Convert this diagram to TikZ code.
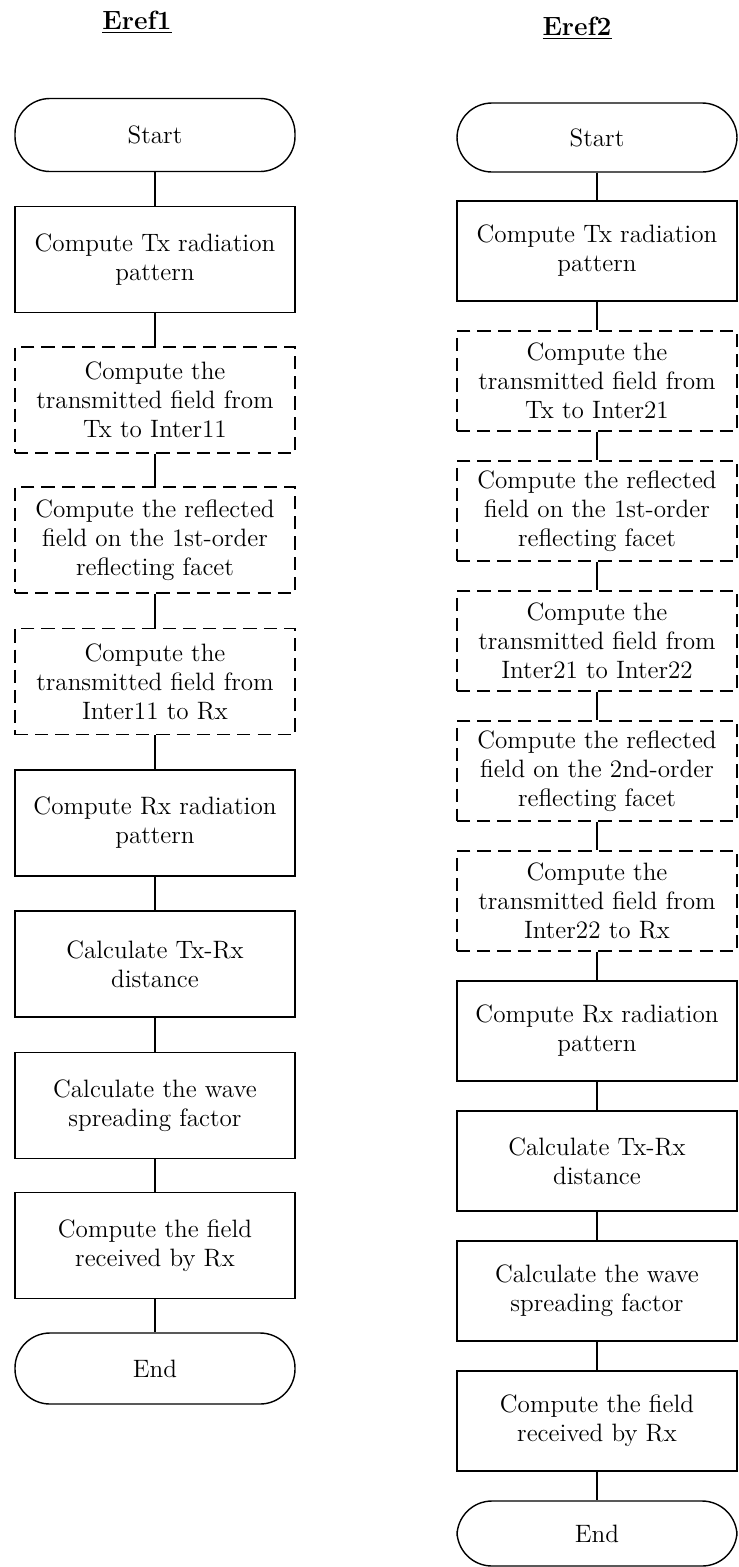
\documentclass[tikz,border=0pt]{standalone}
\usepackage{tikz}

\begin{document}
\begin{tikzpicture}[
  x=1cm,y=1cm,
  box/.style={draw, line width=0.8pt, align=center, minimum width=5.6cm, minimum height=#1, font=\fontsize{14.3}{16.5}\selectfont, inner sep=4pt},
  box/.default=2.12cm,
  dashbox/.style={box=#1, line width=1.05pt, dash pattern=on 7.5pt off 4pt},
  dashbox/.default=2.12cm,
  term/.style={draw, line width=0.8pt, rounded corners=0.7cm, minimum width=5.6cm, minimum height=#1, font=\fontsize{14.3}{16.5}\selectfont},
  term/.default=1.46cm,
  title/.style={font=\fontsize{15}{17}\selectfont\bfseries},
  link/.style={line width=0.8pt}
]
\useasboundingbox (0,0) rectangle (14.78,-31.34);

% first column
\node[title] (eref1) at (2.74,-0.44) {\underline{Eref1}};
\node[term] (start1) at (3.10,-2.70) {Start};
\node[box] (txpat1) at (3.10,-5.19) {Compute Tx radiation\\pattern};
\node[dashbox] (trans11) at (3.10,-8.00) {Compute the\\transmitted field from\\Tx to Inter11};
\node[dashbox] (refl1) at (3.10,-10.80) {Compute the reflected\\field on the 1st-order\\reflecting facet};
\node[dashbox] (trans12) at (3.10,-13.63) {Compute the\\transmitted field from\\Inter11 to Rx};
\node[box] (rxpat1) at (3.10,-16.46) {Compute Rx radiation\\pattern};
\node[box] (dist1) at (3.10,-19.28) {Calculate Tx-Rx\\distance};
\node[box] (spread1) at (3.10,-22.11) {Calculate the wave\\spreading factor};
\node[box] (field1) at (3.10,-24.91) {Compute the field\\received by Rx};
\node[term=1.42cm] (end1) at (3.10,-27.37) {End};
\draw[link] (start1) -- (txpat1);
\draw[link] (txpat1) -- (trans11);
\draw[link] (trans11) -- (refl1);
\draw[link] (refl1) -- (trans12);
\draw[link] (trans12) -- (rxpat1);
\draw[link] (rxpat1) -- (dist1);
\draw[link] (dist1) -- (spread1);
\draw[link] (spread1) -- (field1);
\draw[link] (field1) -- (end1);

% second column
\node[title] (eref2) at (11.54,-0.56) {\underline{Eref2}};
\node[term=1.38cm] (start2) at (11.94,-2.75) {Start};
\node[box=2cm] (txpat2) at (11.94,-5.02) {Compute Tx radiation\\pattern};
\node[dashbox=2cm] (trans21) at (11.94,-7.62) {Compute the\\transmitted field from\\Tx to Inter21};
\node[dashbox=2cm] (refl21) at (11.94,-10.22) {Compute the reflected\\field on the 1st-order\\reflecting facet};
\node[dashbox=2cm] (trans22) at (11.94,-12.82) {Compute the\\transmitted field from\\Inter21 to Inter22};
\node[dashbox=2cm] (refl22) at (11.94,-15.42) {Compute the reflected\\field on the 2nd-order\\reflecting facet};
\node[dashbox=2cm] (trans23) at (11.94,-18.02) {Compute the\\transmitted field from\\Inter22 to Rx};
\node[box=2cm] (rxpat2) at (11.94,-20.62) {Compute Rx radiation\\pattern};
\node[box=2cm] (dist2) at (11.94,-23.22) {Calculate Tx-Rx\\distance};
\node[box=2cm] (spread2) at (11.94,-25.82) {Calculate the wave\\spreading factor};
\node[box=2cm] (field2) at (11.94,-28.42) {Compute the field\\received by Rx};
\node[term=1.3cm] (end2) at (11.94,-30.67) {End};
\draw[link] (start2) -- (txpat2);
\draw[link] (txpat2) -- (trans21);
\draw[link] (trans21) -- (refl21);
\draw[link] (refl21) -- (trans22);
\draw[link] (trans22) -- (refl22);
\draw[link] (refl22) -- (trans23);
\draw[link] (trans23) -- (rxpat2);
\draw[link] (rxpat2) -- (dist2);
\draw[link] (dist2) -- (spread2);
\draw[link] (spread2) -- (field2);
\draw[link] (field2) -- (end2);
\end{tikzpicture}
\end{document}
